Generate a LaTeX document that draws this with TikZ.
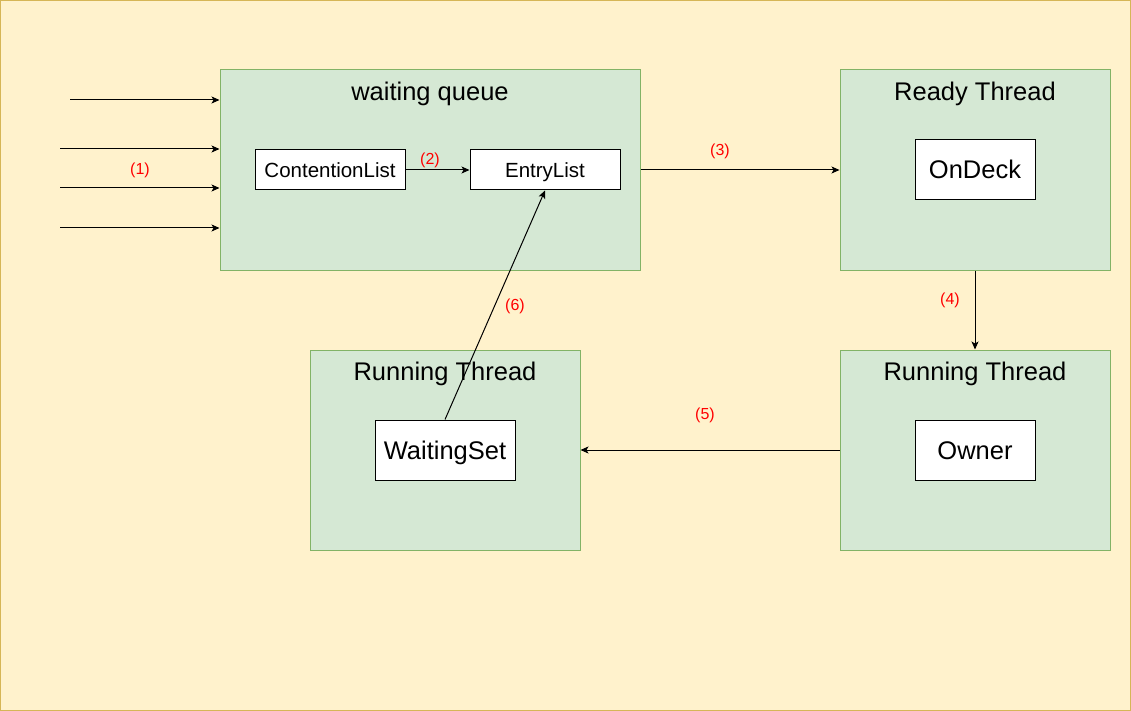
\documentclass[tikz,border=0pt]{standalone}
\usepackage{fontspec}
\setmainfont{Liberation Sans}
\usetikzlibrary{arrows.meta,positioning}

\definecolor{bgfill}{HTML}{FFF2CC}
\definecolor{bgline}{HTML}{D6B656}
\definecolor{grpfill}{HTML}{D5E8D4}
\definecolor{grpline}{HTML}{82B366}
\definecolor{numred}{HTML}{FF0000}

\tikzset{
  group/.style={draw=grpline, fill=grpfill, line width=1pt, inner sep=0pt,
    minimum width=#1, minimum height=200pt},
  title/.style={anchor=base, inner sep=0pt, font=\fontsize{25.5}{30}\selectfont},
  listbox/.style={draw, fill=white, line width=1pt, inner sep=0pt,
    text height=17pt, text depth=1pt,
    minimum width=150pt, minimum height=40pt, font=\fontsize{20.5}{24}\selectfont},
  bigbox/.style={draw, fill=white, line width=1pt, inner sep=0pt,
    text height=19pt, text depth=1pt,
    minimum width=#1, minimum height=60pt, font=\fontsize{25.5}{30}\selectfont},
  num/.style={text=numred, inner sep=0pt, font=\fontsize{16}{19}\selectfont},
  arr/.style={-{Stealth[length=8pt,width=7pt,inset=2pt]}, line width=1pt}
}

\begin{document}
\begin{tikzpicture}[x=1pt,y=-1pt]
\useasboundingbox (0,0) rectangle (1131,711);
\draw[draw=bgline, fill=bgfill, line width=1pt] (0.5,0.5) rectangle (1130.5,710.5);

% containers
\node[group=420pt] (queue) at (430,170) {};
\node[group=270pt] (ready) at (975,170) {};
\node[group=270pt] (runR) at (975,450) {};
\node[group=270pt] (runL) at (445,450) {};

\node[title] at ([yshift=-31pt]queue.north) {waiting queue};
\node[title] at ([yshift=-31pt]ready.north) {Ready Thread};
\node[title] at ([yshift=-31pt]runR.north) {Running Thread};
\node[title] at ([yshift=-31pt]runL.north) {Running Thread};

% inner boxes
\node[listbox] (clist) at (330,170) {ContentionList};
\node[listbox] (elist) at (545,170) {EntryList};
\node[bigbox=120pt] (deck) at (975,170) {OnDeck};
\node[bigbox=120pt] (owner) at (975,450) {Owner};
\node[bigbox=140pt] (wset) at (445,450) {WaitingSet};

% incoming threads
\coordinate (in1) at (70,100);
\coordinate (in2) at (60,149);
\coordinate (in3) at (60,188);
\coordinate (in4) at (60,228);
\draw[arr] (in1) -- (in1 -| queue.west);
\draw[arr] (in2) -- (in2 -| queue.west);
\draw[arr] (in3) -- (in3 -| queue.west);
\draw[arr] (in4) -- (in4 -| queue.west);

\draw[arr] (clist) -- (elist);
\draw[arr] (queue) -- (ready);
\draw[arr] (ready) -- (runR);
\draw[arr] (runR) -- (runL);
\draw[arr] (wset.north) -- (elist.south);

% step numbers
\node[num] (n1) at (140,170) {(1)};
\node[num] (n2) at (430,160) {(2)};
\node[num] (n3) at (720,151) {(3)};
\node[num] (n4) at (950,300) {(4)};
\node[num] (n5) at (705,415) {(5)};
\node[num] (n6) at (515,306) {(6)};

\end{tikzpicture}
\end{document}
